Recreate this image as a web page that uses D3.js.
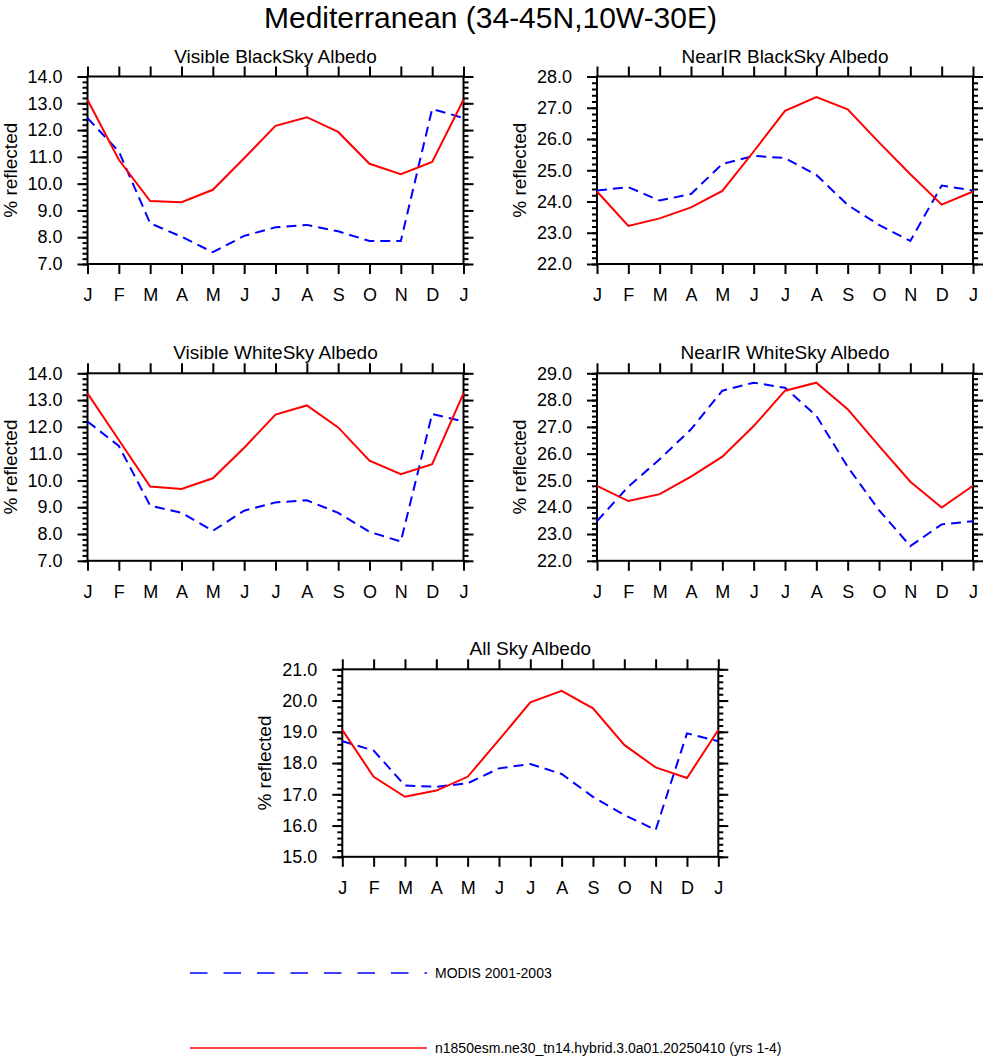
<!DOCTYPE html>
<html lang="en">
<head>
    <title>Mediterranean albedo</title>
    <meta charset="utf-8"/>
    <script src="https://d3js.org/d3.v7.min.js"></script>
    <style>
        body { margin: 0; background: #fff; }
        svg { display: block; font-family: "Liberation Sans", Arial, Helvetica, sans-serif; }
        .domain { display: none; }
    </style>
</head>
<body>
<div id="viz">
    <svg width="984" height="1056"></svg>
</div>

<script type="text/javascript">

    // month labels along x (January repeated at the end)
    const months = ["J", "F", "M", "A", "M", "J", "J", "A", "S", "O", "N", "D", "J"];

    const mainTitle = "Mediterranean (34-45N,10W-30E)";
    const panelTitles = ["Visible BlackSky Albedo", "NearIR BlackSky Albedo",
        "Visible WhiteSky Albedo", "NearIR WhiteSky Albedo", "All Sky Albedo"];
    const yLabel = "% reflected";

    // y axis ranges per panel
    const yMin = [7, 22, 7, 22, 15];
    const yMax = [14, 28, 14, 29, 21];

    // series
    const visBlackModis = [12.45, 11.2, 8.52, 8.02, 7.44, 8.05, 8.37, 8.46, 8.22, 7.86, 7.86, 12.79, 12.45];
    const visBlackModel = [13.13, 10.89, 9.35, 9.31, 9.77, 10.95, 12.16, 12.48, 11.93, 10.74, 10.35, 10.81, 13.13];

    const nirBlackModis = [24.35, 24.46, 24.03, 24.24, 25.2, 25.46, 25.39, 24.85, 23.89, 23.25, 22.74, 24.51, 24.35];
    const nirBlackModel = [24.32, 23.22, 23.46, 23.81, 24.34, 25.6, 26.9, 27.34, 26.95, 25.89, 24.87, 23.9, 24.32];

    const visWhiteModis = [12.2, 11.29, 9.06, 8.79, 8.12, 8.87, 9.18, 9.26, 8.79, 8.08, 7.72, 12.48, 12.2];
    const visWhiteModel = [13.25, 11.51, 9.77, 9.68, 10.08, 11.22, 12.46, 12.8, 11.98, 10.74, 10.23, 10.61, 13.25];

    const nirWhiteModis = [23.48, 24.77, 25.79, 26.91, 28.35, 28.65, 28.46, 27.41, 25.51, 23.89, 22.55, 23.36, 23.48];
    const nirWhiteModel = [24.8, 24.23, 24.49, 25.14, 25.89, 27.03, 28.35, 28.65, 27.66, 26.29, 24.95, 23.99, 24.8];

    const allSkyModis = [18.7, 18.4, 17.28, 17.24, 17.35, 17.83, 17.97, 17.65, 16.92, 16.34, 15.86, 18.95, 18.7];
    const allSkyModel = [19.06, 17.56, 16.92, 17.12, 17.56, 18.74, 19.94, 20.31, 19.75, 18.58, 17.86, 17.52, 19.06];

    const legendLabels = ["MODIS 2001-2003", "n1850esm.ne30_tn14.hybrid.3.0a01.20250410 (yrs 1-4)"];

    const modisSeries = [visBlackModis, nirBlackModis, visWhiteModis, nirWhiteModis, allSkyModis];
    const modelSeries = [visBlackModel, nirBlackModel, visWhiteModel, nirWhiteModel, allSkyModel];

    // colores
    const blue = "#0000ff", red = "#ff0000";

    // layout (top-left corner of each plot box)
    const plotW = 376, plotH = 187.5;
    const corners = [[87.5, 76.5], [597, 76.5], [87.5, 373.3], [597, 373.3], [342.3, 669.3]];

    const svg = d3.select("svg");

    svg.append("text")
        .attr("x", 490.5)
        .attr("y", 28)
        .attr("text-anchor", "middle")
        .style("font-size", "30px")
        .text(mainTitle);

    panelTitles.forEach(function (title, p) {
        drawPanel(p);
    });

    function drawPanel(p) {
        let g = svg.append("g")
            .attr("transform", "translate(" + corners[p][0] + "," + corners[p][1] + ")");

        let x = d3.scaleLinear().domain([0, months.length - 1]).range([0, plotW]);
        let y = d3.scaleLinear().domain([yMin[p], yMax[p]]).range([plotH, 0]);

        let majorY = d3.range(yMin[p], yMax[p] + 0.001, 1);
        let minorY = d3.range(yMin[p], yMax[p] + 0.001, 0.2);
        let monthIdx = d3.range(months.length);

        // bottom axis with month letters
        let xBottom = d3.axisBottom(x)
            .tickValues(monthIdx)
            .tickFormat(i => months[i])
            .tickSize(10)
            .tickPadding(14);
        g.append("g")
            .attr("transform", "translate(0," + plotH + ")")
            .style("font-size", "18px")
            .call(xBottom);

        // top ticks, no labels
        g.append("g")
            .call(d3.axisTop(x).tickValues(monthIdx).tickFormat("").tickSize(10));

        // left axis: minor then major
        g.append("g")
            .call(d3.axisLeft(y).tickValues(minorY).tickFormat("").tickSize(5));
        g.append("g")
            .style("font-size", "18px")
            .call(d3.axisLeft(y).tickValues(majorY).tickFormat(d3.format(".1f")).tickSize(10).tickPadding(15));

        // right side ticks
        g.append("g")
            .attr("transform", "translate(" + plotW + ",0)")
            .call(d3.axisRight(y).tickValues(minorY).tickFormat("").tickSize(5));
        g.append("g")
            .attr("transform", "translate(" + plotW + ",0)")
            .call(d3.axisRight(y).tickValues(majorY).tickFormat("").tickSize(10));

        g.selectAll(".tick line")
            .attr("stroke", "#000")
            .attr("stroke-width", 2);
        g.selectAll(".tick text")
            .attr("fill", "#000")
            .style("font-family", "\"Liberation Sans\", Arial, sans-serif");

        // the box
        g.append("rect")
            .attr("width", plotW)
            .attr("height", plotH)
            .attr("fill", "none")
            .attr("stroke", "#000")
            .attr("stroke-width", 2);

        let line = d3.line()
            .x((d, i) => x(i))
            .y(d => y(d));

        g.append("path")
            .attr("d", line(modisSeries[p]))
            .attr("fill", "none")
            .attr("stroke", blue)
            .attr("stroke-width", 2)
            .attr("stroke-dasharray", "10,6");

        g.append("path")
            .attr("d", line(modelSeries[p]))
            .attr("fill", "none")
            .attr("stroke", red)
            .attr("stroke-width", 2);

        // titles
        g.append("text")
            .attr("x", plotW / 2)
            .attr("y", -14)
            .attr("text-anchor", "middle")
            .style("font-size", "19px")
            .text(panelTitles[p]);

        g.append("text")
            .attr("transform", "translate(-71," + (plotH / 2) + ") rotate(-90)")
            .attr("text-anchor", "middle")
            .style("font-size", "19px")
            .text(yLabel);
    }

    // legend
    let legend = svg.append("g");
    let legendY = [973, 1048];
    let legendColor = [blue, red];
    let legendDash = ["17.5,16", null];

    legendLabels.forEach(function (lab, i) {
        legend.append("line")
            .attr("x1", 190).attr("x2", 427)
            .attr("y1", legendY[i]).attr("y2", legendY[i])
            .attr("stroke", legendColor[i])
            .attr("stroke-width", 1.5)
            .attr("stroke-dasharray", legendDash[i]);
        legend.append("text")
            .attr("x", 435)
            .attr("y", legendY[i] + 5)
            .style("font-size", "14px")
            .text(lab);
    });

</script>
</body>
</html>
